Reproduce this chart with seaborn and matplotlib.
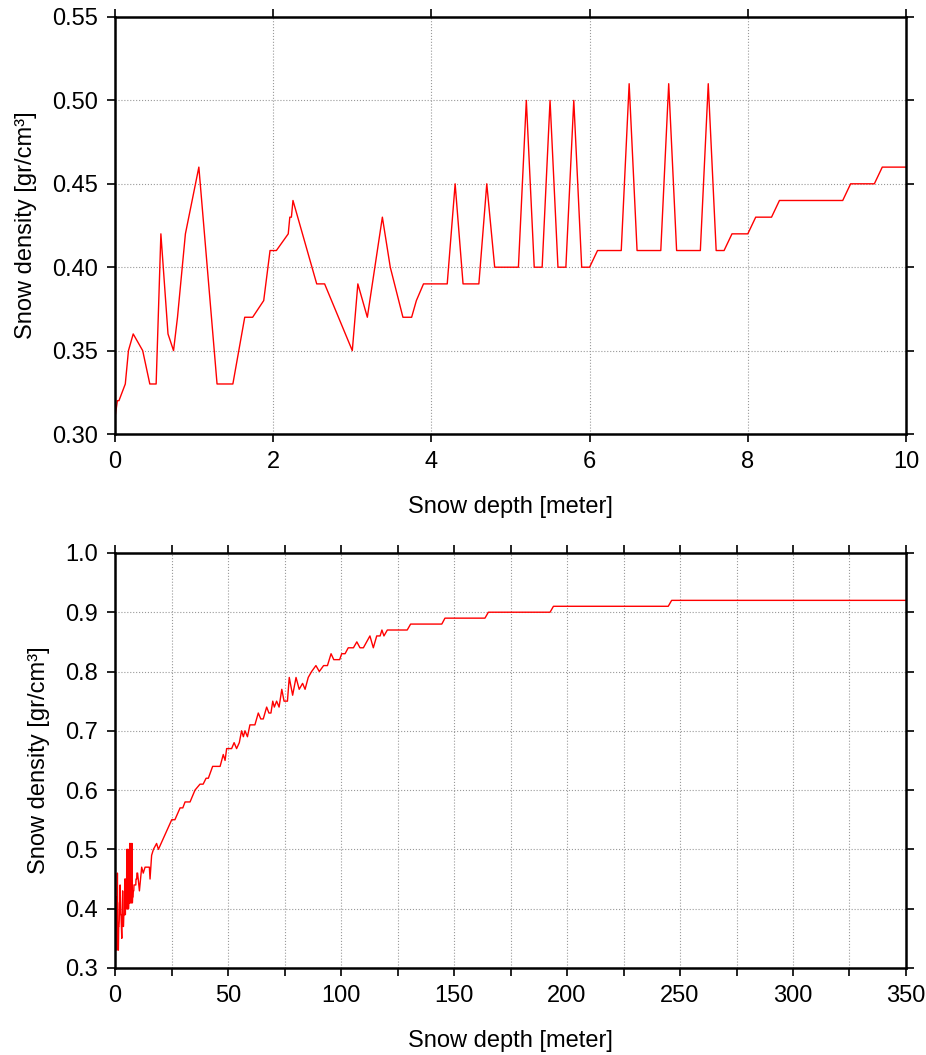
import numpy as np
import pandas as pd
import seaborn as sns
import matplotlib
matplotlib.use('Agg')
import matplotlib.pyplot as plt
from matplotlib.ticker import MultipleLocator

# first 10 m of the profile
shallow_depth = [0.0, 0.03, 0.05, 0.13, 0.15, 0.17, 0.23, 0.35, 0.44, 0.52,
                 0.58, 0.67, 0.74, 0.79, 0.89, 1.06, 1.29, 1.49, 1.64, 1.74,
                 1.88, 1.96, 2.04, 2.19, 2.21, 2.23, 2.25, 2.55, 2.65, 3.0,
                 3.07, 3.19, 3.38, 3.48, 3.64, 3.75, 3.81, 3.9, 4.2, 4.3,
                 4.4, 4.6, 4.7, 4.8, 5.1, 5.2, 5.3, 5.4, 5.5, 5.6,
                 5.7, 5.8, 5.9, 6.0, 6.1, 6.4, 6.5, 6.6, 6.9, 7.0,
                 7.1, 7.4, 7.5, 7.6, 7.7, 7.8, 8.0, 8.1, 8.3, 8.4,
                 9.2, 9.3, 9.6, 9.7, 10.0]
shallow_density = [0.31, 0.32, 0.32, 0.33, 0.34, 0.35, 0.36, 0.35, 0.33, 0.33,
                   0.42, 0.36, 0.35, 0.37, 0.42, 0.46, 0.33, 0.33, 0.37, 0.37,
                   0.38, 0.41, 0.41, 0.42, 0.43, 0.43, 0.44, 0.39, 0.39, 0.35,
                   0.39, 0.37, 0.43, 0.40, 0.37, 0.37, 0.38, 0.39, 0.39, 0.45,
                   0.39, 0.39, 0.45, 0.40, 0.40, 0.50, 0.40, 0.40, 0.50, 0.40,
                   0.40, 0.50, 0.40, 0.40, 0.41, 0.41, 0.51, 0.41, 0.41, 0.51,
                   0.41, 0.41, 0.51, 0.41, 0.41, 0.42, 0.42, 0.43, 0.43, 0.44,
                   0.44, 0.45, 0.45, 0.46, 0.46]

# deeper part down to 350 m
deep_depth = [10.8, 11.8, 12.5, 13.3, 15.2, 15.5, 16.2, 17.0, 18.4, 19.2,
              25.1, 26.5, 28.8, 30.0, 31.0, 33.2, 35.4, 37.6, 39.0, 40.3,
              41.3, 43.2, 46.5, 47.9, 48.7, 49.4, 51.6, 52.7, 53.8, 55.0,
              56.0, 56.8, 57.5, 58.6, 59.7, 61.9, 63.4, 64.5, 65.6, 67.1,
              68.1, 69.0, 69.8, 70.5, 71.5, 72.6, 73.8, 74.8, 76.3, 77.1,
              78.6, 80.1, 81.5, 83.0, 84.1, 85.5, 87.0, 88.9, 90.4, 92.3,
              94.0, 95.6, 96.8, 99.4, 100.3, 101.8, 103.2, 105.5, 107.0, 108.4,
              109.9, 112.8, 114.3, 115.8, 117.3, 118.1, 119.0, 120.5, 129.3, 130.8,
              144.6, 146.0, 163.7, 165.2, 192.5, 194.0, 244.8, 246.3, 350.0]
deep_density = [0.43, 0.47, 0.46, 0.47, 0.47, 0.45, 0.49, 0.50, 0.51, 0.50,
                0.55, 0.55, 0.57, 0.57, 0.58, 0.58, 0.60, 0.61, 0.61, 0.62,
                0.62, 0.64, 0.64, 0.66, 0.65, 0.67, 0.67, 0.68, 0.67, 0.68,
                0.70, 0.69, 0.70, 0.69, 0.71, 0.71, 0.73, 0.72, 0.72, 0.74,
                0.73, 0.73, 0.75, 0.74, 0.75, 0.74, 0.77, 0.75, 0.75, 0.79,
                0.76, 0.79, 0.77, 0.78, 0.77, 0.79, 0.80, 0.81, 0.80, 0.81,
                0.81, 0.83, 0.82, 0.82, 0.83, 0.83, 0.84, 0.84, 0.85, 0.84,
                0.84, 0.86, 0.84, 0.86, 0.86, 0.87, 0.86, 0.87, 0.87, 0.88,
                0.88, 0.89, 0.89, 0.90, 0.90, 0.91, 0.91, 0.92, 0.92]

df = pd.DataFrame({'depth': shallow_depth + deep_depth,
                   'density': shallow_density + deep_density})

sns.set_style('ticks')
plt.rcParams['font.family'] = ['Liberation Sans', 'DejaVu Sans']
plt.rcParams['font.size'] = 17
plt.rcParams['text.color'] = 'black'
plt.rcParams['axes.labelcolor'] = 'black'
plt.rcParams['xtick.color'] = 'black'
plt.rcParams['ytick.color'] = 'black'

fig = plt.figure(figsize=(9.26, 10.55), dpi=100)
ax1 = fig.add_axes([0.1242, 0.5886, 0.8542, 0.3953])
ax2 = fig.add_axes([0.1242, 0.0825, 0.8542, 0.3934])

def style_axis(ax, xlim, ylim, xmaj, xgrid, ymaj, yfmt):
    ax.set_xlim(*xlim)
    ax.set_ylim(*ylim)
    ax.xaxis.set_major_locator(MultipleLocator(xmaj))
    ax.yaxis.set_major_locator(MultipleLocator(ymaj))
    if xgrid != xmaj:
        ax.xaxis.set_minor_locator(MultipleLocator(xgrid))
        ax.grid(True, which='minor', axis='x', color='#999999', ls=':', lw=0.8)
        ax.tick_params(which='minor', direction='out', length=6, width=1.2,
                       top=True, bottom=True)
    ax.yaxis.set_major_formatter(matplotlib.ticker.FormatStrFormatter(yfmt))
    ax.grid(True, which='major', color='#999999', ls=':', lw=0.8)
    ax.set_axisbelow(True)
    ax.tick_params(which='major', direction='out', length=6, width=1.2,
                   top=True, right=True, labelsize=17, pad=6)
    for sp in ax.spines.values():
        sp.set_linewidth(1.8)
        sp.set_color('black')
        sp.set_visible(True)
    ax.set_xlabel('Snow depth [meter]', fontsize=17, labelpad=17)
    ax.set_ylabel('Snow density [gr/cm³]', fontsize=17, labelpad=11)

sns.lineplot(data=df, x='depth', y='density', ax=ax1, color='red', lw=1.0,
             estimator=None, sort=False)
style_axis(ax1, (0, 10), (0.30, 0.55), 2, 2, 0.05, '%.2f')

sns.lineplot(data=df, x='depth', y='density', ax=ax2, color='red', lw=1.0,
             estimator=None, sort=False)
style_axis(ax2, (0, 350), (0.3, 1.0), 50, 25, 0.1, '%.1f')

fig.savefig('out.png', dpi=100)
